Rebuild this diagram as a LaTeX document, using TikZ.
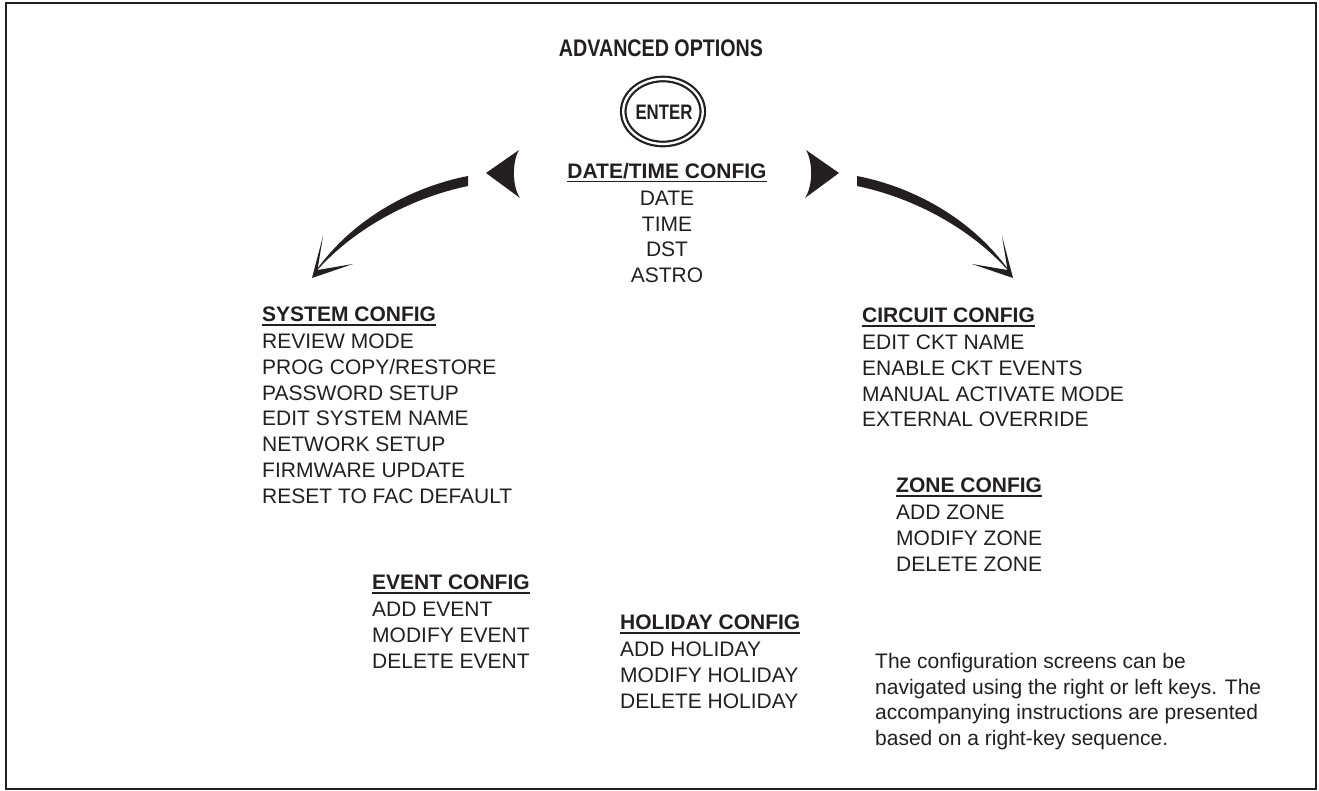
\documentclass[tikz,border=0pt]{standalone}
\usepackage{fontspec}
\setmainfont{Liberation Sans}
\definecolor{ink}{HTML}{231F20}
\newsavebox\hdbox
\newcommand\hdline[1]{\sbox\hdbox{\bfseries #1}\rlap{\rule[-4pt]{\wd\hdbox}{1.5pt}}\usebox\hdbox}
\tikzset{
  body/.style={font=\fontsize{21}{25.7}\selectfont, text=ink, inner sep=0pt, align=left, anchor=north west},
  bodyc/.style={body, align=center, anchor=north},
  frame/.style={draw=ink, line width=2pt},
  inkfill/.style={fill=ink, draw=none},
}
\begin{document}
\begin{tikzpicture}[x=1pt,y=-1pt]
\useasboundingbox (0,0) rectangle (1319,791);
\draw[frame] (6,3) rectangle (1316,789);

\node[font=\fontsize{24}{28}\selectfont\bfseries, text=ink, inner sep=0pt] (title) at (661,48) {\scalebox{0.82}[1]{ADVANCED OPTIONS}};

% ENTER button
\node[font=\fontsize{21}{25}\selectfont\bfseries, text=ink, inner sep=0pt] (enter) at (664,112.5) {\scalebox{0.8}[1]{ENTER}};
\draw[draw=ink, line width=2.2pt, double=white, double distance=2.3pt] (663,111.5) ellipse [x radius=39.75, y radius=32.5];

% central block
\node[bodyc] (dt) at (667,163) {\hdline{DATE/TIME CONFIG}\\[1.3pt] DATE\\ TIME\\ DST\\ ASTRO};

% left side arrow decorations
\begin{scope}
  \fill[ink] (486,173) -- (519,150) .. controls (512,162) and (512,186) .. (520,198) -- cycle;
  \fill[ink] (468,176) .. controls (406,188) and (347,224) .. (313,275)
             .. controls (351,230) and (410,198) .. (468,186) -- cycle;
  \fill[ink] (312,278) -- (323,236) -- (317.5,270) -- (353,264) -- cycle;
\end{scope}
% right side (mirror)
\begin{scope}[xshift=1325pt, xscale=-1]
  \fill[ink] (486,173) -- (519,150) .. controls (512,162) and (512,186) .. (520,198) -- cycle;
  \fill[ink] (468,176) .. controls (406,188) and (347,224) .. (313,275)
             .. controls (351,230) and (410,198) .. (468,186) -- cycle;
  \fill[ink] (312,278) -- (323,236) -- (317.5,270) -- (353,264) -- cycle;
\end{scope}

\node[body] (sys) at (262,307) {\hdline{SYSTEM CONFIG}\\[1.3pt] REVIEW MODE\\ PROG COPY/RESTORE\\ PASSWORD SETUP\\ EDIT SYSTEM NAME\\ NETWORK SETUP\\ FIRMWARE UPDATE\\ RESET TO FAC DEFAULT};

\node[body] (cir) at (862,308) {\hdline{CIRCUIT CONFIG}\\[1.3pt] EDIT CKT NAME\\ ENABLE CKT EVENTS\\ MANUAL ACTIVATE MODE\\ EXTERNAL OVERRIDE};

\node[body] (zone) at (896,478) {\hdline{ZONE CONFIG}\\[1.3pt] ADD ZONE\\ MODIFY ZONE\\ DELETE ZONE};

\node[body] (event) at (372,575) {\hdline{EVENT CONFIG}\\[1.3pt] ADD EVENT\\ MODIFY EVENT\\ DELETE EVENT};

\node[body] (hol) at (620,615) {\hdline{HOLIDAY CONFIG}\\[1.3pt] ADD HOLIDAY\\ MODIFY HOLIDAY\\ DELETE HOLIDAY};

\node[body] (note) at (875,653) {The configuration screens can be\\ navigated using the right or left keys. The\\ accompanying instructions are presented\\ based on a right-key sequence.};
\end{tikzpicture}
\end{document}
